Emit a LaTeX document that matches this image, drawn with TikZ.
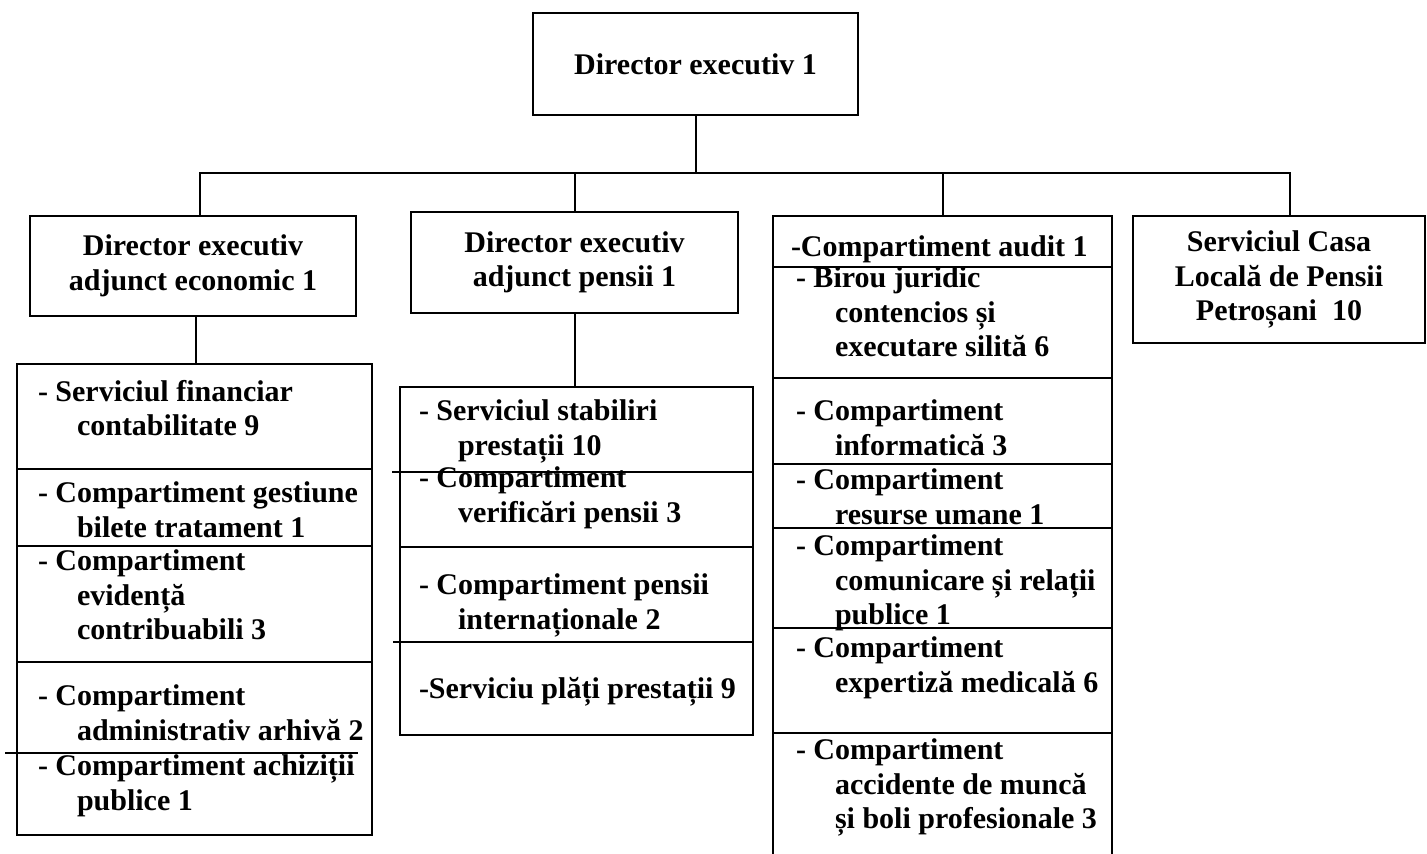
\documentclass[tikz,border=0pt]{standalone}
\usepackage{fontspec}
\setmainfont{Liberation Serif}
\newcommand{\subind}{\hspace*{1.3em}}
\begin{document}
\begin{tikzpicture}[x=1pt,y=-1pt,line width=2pt,
    every node/.style={font=\fontsize{30}{34.5}\selectfont\bfseries, inner sep=0pt},
    box/.style={draw, align=center},
    listbox/.style={draw},
    entry/.style={anchor=north west, align=left, execute at begin node=\strut}]
  \useasboundingbox (0,0) rectangle (1427,854);

  % Director and deputies
  \node[box, minimum width=325, minimum height=102] (dirExec) at (695.5,64) {Director executiv 1};
  \node[box, minimum width=326, minimum height=100] (adjEcon) at (193,266) {Director executiv\\adjunct economic 1};
  \node[box, minimum width=327, minimum height=101] (adjPens) at (574.5,262.5) {Director executiv\\adjunct pensii 1};
  \node[box, minimum width=292, minimum height=127] (casaLoc) at (1279,279.5) {Serviciul Casa\\Locală de Pensii\\Petroșani\ \ 10};

  % Lists
  \node[listbox, minimum width=355, minimum height=471] (econList) at (194.5,599.5) {};
  \node[listbox, minimum width=353, minimum height=348] (pensList) at (576.5,561) {};
  \node[listbox, minimum width=339, minimum height=646] (compList) at (942.5,539) {};

  % Connectors
  \coordinate (bus) at (695.5,173);
  \draw (dirExec.south) -- (bus);
  \draw ([xshift=7pt]adjEcon.north) |- (bus) -| ([xshift=11pt]casaLoc.north);
  \draw (adjPens.north) -- (adjPens.north |- bus);
  \draw (compList.north) -- (compList.north |- bus);
  \draw ([xshift=3pt]adjEcon.south) -- ([xshift=3pt]adjEcon.south |- econList.north);
  \draw (adjPens.south) -- (adjPens.south |- pensList.north);

  % Dividers
  \foreach \y in {469,546,662}
    \draw (17,\y) -- (372,\y);
  \draw (5,753) -- (358,753);
  \draw (392,472) -- (753,472);
  \draw (400,547) -- (753,547);
  \draw (393,642) -- (753,642);
  \foreach \y in {267,378,464,528,628,733}
    \draw (773,\y) -- (1112,\y);

  % Economic entries
  \node[entry] (ecoFin) at (37,379) {- Serviciul financiar\\\subind contabilitate 9};
  \node[entry] (ecoBil) at (37,481) {- Compartiment gestiune\\\subind bilete tratament 1};
  \node[entry] (ecoEvi) at (37,549) {- Compartiment\\\subind evidență\\\subind contribuabili 3};
  \node[entry] (ecoAdm) at (37,684) {- Compartiment\\\subind administrativ arhivă 2};
  \node[entry] (ecoAch) at (37,754) {- Compartiment achiziții\\\subind publice 1};

  % Pension entries
  \node[entry] (penSta) at (418,399) {- Serviciul stabiliri\\\subind prestații 10};
  \node[entry] (penVer) at (418,466) {- Compartiment\\\subind verificări pensii 3};
  \node[entry] (penInt) at (418,573) {- Compartiment pensii\\\subind internaționale 2};
  \node[entry] (penPla) at (418,673) {-Serviciu plăți prestații 9};

  % Compartments under the director
  \node[entry] (cmpAud) at (790,231) {-Compartiment audit 1};
  \node[entry] (cmpJur) at (795,266) {- Birou juridic\\\subind contencios și\\\subind executare silită 6};
  \node[entry] (cmpInf) at (795,399) {- Compartiment\\\subind informatică 3};
  \node[entry] (cmpRes) at (795,468) {- Compartiment\\\subind resurse umane 1};
  \node[entry] (cmpCom) at (795,534) {- Compartiment\\\subind comunicare și relații\\\subind publice 1};
  \node[entry] (cmpExp) at (795,636) {- Compartiment\\\subind expertiză medicală 6};
  \node[entry] (cmpAcc) at (795,738) {- Compartiment\\\subind accidente de muncă\\\subind și boli profesionale 3};
\end{tikzpicture}
\end{document}
